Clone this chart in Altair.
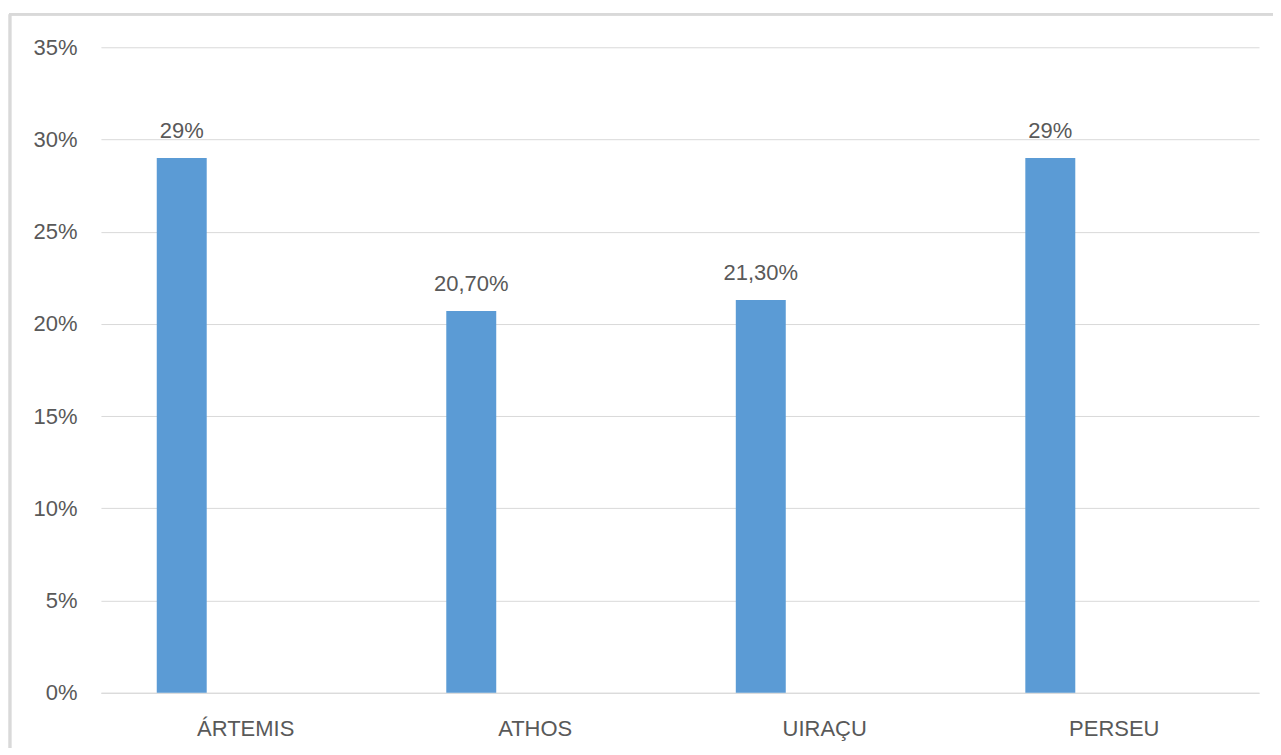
import altair as alt
import pandas as pd

categories = ["ÁRTEMIS", "ATHOS", "UIRAÇU", "PERSEU"]
values = [0.29, 0.207, 0.213, 0.29]
value_labels = ["29%", "20,70%", "21,30%", "29%"]
y_ticks = [0, 0.05, 0.10, 0.15, 0.20, 0.25, 0.30, 0.35]

df = pd.DataFrame({"cat": categories, "val": values, "lab": value_labels})

FONT = "Liberation Sans"
GRAY = "#595959"
GRID = "#d9d9d9"
BAR = "#5b9bd5"

x_enc = alt.X("cat:N", sort=categories,
              scale=alt.Scale(paddingInner=0, paddingOuter=0),
              axis=alt.Axis(title=None, labelAngle=0, ticks=False, domain=True,
                            domainColor=GRID, domainWidth=1, grid=False,
                            labelFont=FONT, labelFontSize=22, labelColor=GRAY,
                            labelPadding=26))
y_enc = alt.Y("val:Q",
              scale=alt.Scale(domain=[0, 0.35], nice=False, zero=True),
              axis=alt.Axis(title=None, format=".0%", values=y_ticks, ticks=False,
                            domain=False, grid=True, gridColor=GRID, gridWidth=1,
                            labelFont=FONT, labelFontSize=22, labelColor=GRAY,
                            labelPadding=24))

base = alt.Chart(df)

bars = base.mark_bar(color=BAR, width=50, xOffset=-64).encode(x=x_enc, y=y_enc)

texts = base.mark_text(font=FONT, fontSize=22, color=GRAY, baseline="alphabetic",
                       dy=-20, xOffset=-64).encode(
    x=alt.X("cat:N", sort=categories), y=alt.Y("val:Q"), text="lab:N")

border_left = base.mark_rule(color=GRID, strokeWidth=2.5).encode(
    x=alt.value(-91), y=alt.value(-33), y2=alt.value(720))
border_top = base.mark_rule(color=GRID, strokeWidth=2.5).encode(
    x=alt.value(-92), x2=alt.value(1200), y=alt.value(-33))

chart = alt.layer(border_left, border_top, bars, texts).properties(
    width=1159, height=646,
    autosize=alt.AutoSizeParams(type="none"),
    padding={"left": 93, "top": 39, "right": 14, "bottom": 55},
).configure(background="white").configure_view(stroke=None)

chart.save("out.html", embed_options={"renderer": "svg", "actions": False})
